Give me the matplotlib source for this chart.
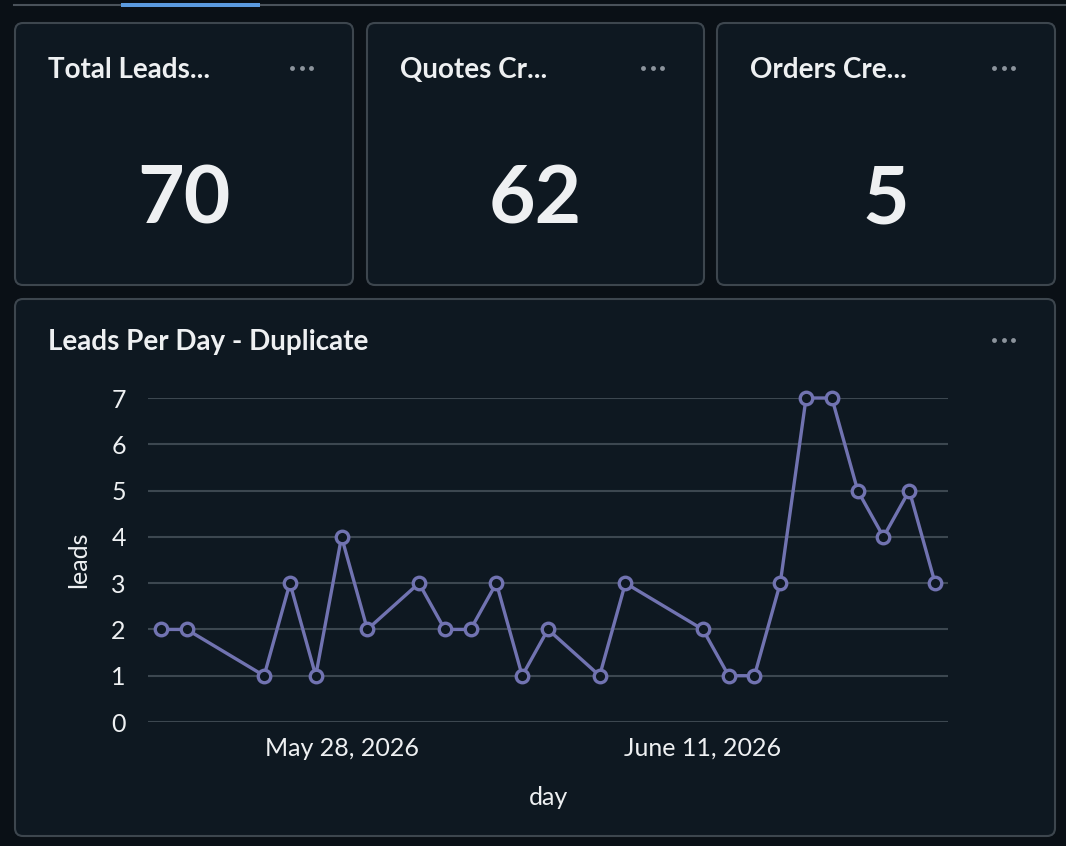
import matplotlib
matplotlib.use("Agg")
import matplotlib.pyplot as plt
from matplotlib.patches import FancyBboxPatch, Rectangle
import pandas as pd

# data
card_titles = ["Total Leads...", "Quotes Cr...", "Orders Cre..."]
card_values = ["70", "62", "5"]

days = ["2026-05-21", "2026-05-22", "2026-05-25", "2026-05-26", "2026-05-27",
        "2026-05-28", "2026-05-29", "2026-05-31", "2026-06-01", "2026-06-02",
        "2026-06-03", "2026-06-04", "2026-06-05", "2026-06-07", "2026-06-08",
        "2026-06-11", "2026-06-12", "2026-06-13", "2026-06-14", "2026-06-15",
        "2026-06-16", "2026-06-17", "2026-06-18", "2026-06-19", "2026-06-20"]
leads = [2, 2, 1, 3, 1, 4, 2, 3, 2, 2, 3, 1, 2, 1, 3, 2, 1, 1, 3, 7, 7, 5, 4, 5, 3]
tick_days = ["2026-05-28", "2026-06-11"]
tick_labels = ["May 28, 2026", "June 11, 2026"]

W, H = 1066, 846
BG = "#0a1016"
CARD = "#0e1821"
EDGE = "#3d464e"
GRID = "#3c4750"
TXT = "#eef0f2"
LINE = "#7173b1"

plt.rcParams['font.family'] = ['Lato', 'DejaVu Sans']

fig = plt.figure(figsize=(W / 100, H / 100), dpi=100, facecolor=BG)


def px(x, y):
    return x / W, 1 - y / H


def card(x0, y0, x1, y1):
    ax0 = fig.add_axes([0, 0, 1, 1], zorder=0)
    ax0.set_xlim(0, W)
    ax0.set_ylim(H, 0)
    ax0.axis("off")
    r = 8
    ax0.add_patch(FancyBboxPatch((x0 + r, y0 + r), x1 - x0 - 2 * r, y1 - y0 - 2 * r,
                                 boxstyle=f"round,pad={r}", fc=CARD, ec=EDGE, lw=1.5))
    return ax0


def dots(ax0, x, y):
    for k in range(3):
        ax0.plot(x + k * 9.5, y, "o", color="#8c949c", ms=3.5, mew=0)


bgax = fig.add_axes([0, 0, 1, 1], zorder=-1)
bgax.set_xlim(0, W)
bgax.set_ylim(H, 0)
bgax.axis("off")
# top tab bar
bgax.plot([14, W], [5, 5], color="#4a525a", lw=1.5, zorder=1)
bgax.add_patch(Rectangle((121, 3.5), 139, 4, color="#5b9be0", lw=0, zorder=2))

# kpi cards
card_x = [(15, 353), (367, 704), (717, 1055)]
for (x0, x1), title, val in zip(card_x, card_titles, card_values):
    ax0 = card(x0, 23, x1, 285)
    ax0.text(x0 + 33, 70, title, color=TXT, fontsize=20, fontweight="bold",
             va="center", ha="left")
    ax0.text((x0 + x1) / 2, 201, val, color=TXT, fontsize=58, fontweight="bold",
             va="center", ha="center")
    dots(ax0, x1 - 61, 68)

# line chart card
ax0 = card(15, 299, 1055, 836)
ax0.text(48, 342, "Leads Per Day - Duplicate", color=TXT, fontsize=20,
         fontweight="bold", va="center", ha="left")
dots(ax0, 994, 340)

dates = pd.to_datetime(days)
l, b = px(148, 722)
r, t = px(948, 398)
ax = fig.add_axes([l, b, r - l, t - b], zorder=2)
ax.set_facecolor("none")
ax.plot(dates, leads, color=LINE, lw=2.4, marker="o", ms=9,
        mfc=CARD, mec=LINE, mew=2.4, clip_on=False, zorder=3)
ax.set_ylim(0, 7)
ax.set_xlim(dates[0] - pd.Timedelta(hours=12), dates[-1] + pd.Timedelta(hours=12))
ax.set_yticks(range(0, 8))
ax.grid(axis="y", color=GRID, lw=1.5)
ax.set_axisbelow(True)
ax.set_xticks(pd.to_datetime(tick_days))
ax.set_xticklabels(tick_labels)
for s in ax.spines.values():
    s.set_visible(False)
ax.tick_params(colors=TXT, labelsize=18, length=0)
ax.tick_params(axis="y", pad=16)
ax.tick_params(axis="x", pad=10.5)
ax.set_xlabel("day", color=TXT, fontsize=18, labelpad=19)
ax.set_ylabel("leads", color=TXT, fontsize=18, labelpad=15)

fig.savefig("out.png", dpi=100, facecolor=BG)
